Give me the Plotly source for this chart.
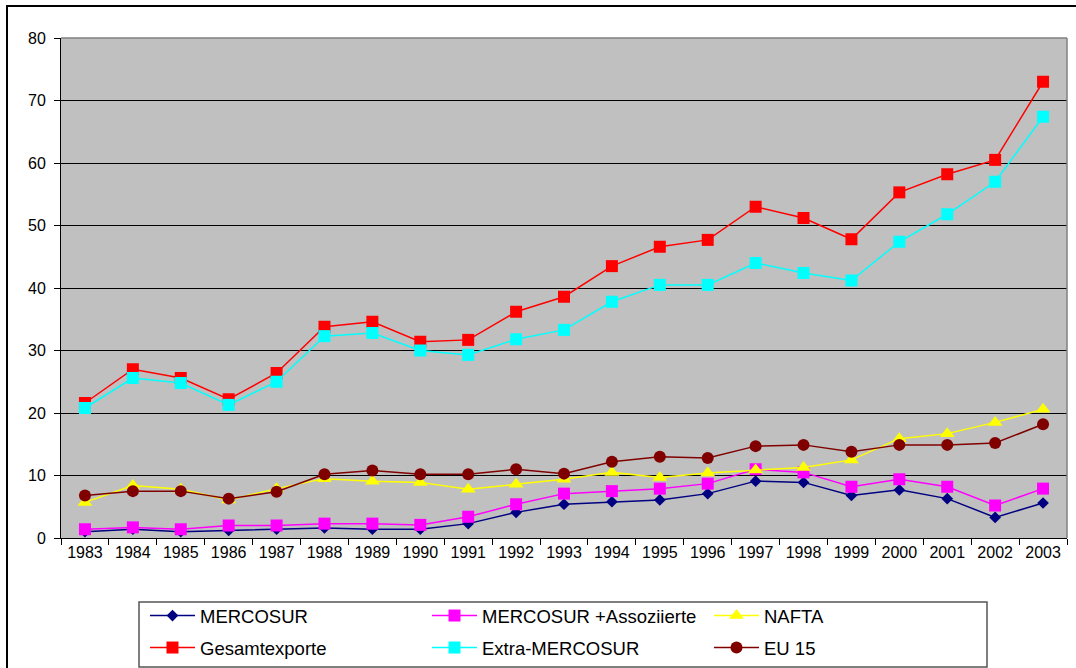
import plotly.graph_objects as go

years = [str(y) for y in range(1983, 2004)]

mercosur = [1.0, 1.4, 1.0, 1.2, 1.4, 1.6, 1.4, 1.4, 2.3, 4.1, 5.4, 5.8, 6.1, 7.1, 9.1, 8.9, 6.8, 7.7, 6.3, 3.3, 5.6]
mercosur_assoz = [1.4, 1.7, 1.4, 2.0, 2.0, 2.3, 2.3, 2.1, 3.4, 5.4, 7.1, 7.5, 7.9, 8.7, 11.0, 10.5, 8.2, 9.4, 8.2, 5.2, 7.9]
nafta = [5.7, 8.4, 7.8, 6.1, 7.9, 9.5, 9.1, 8.9, 7.8, 8.6, 9.4, 10.5, 9.7, 10.4, 10.9, 11.3, 12.5, 15.9, 16.7, 18.5, 20.6]
gesamt = [21.6, 27.0, 25.6, 22.2, 26.4, 33.8, 34.6, 31.4, 31.7, 36.2, 38.6, 43.5, 46.6, 47.7, 53.0, 51.2, 47.8, 55.3, 58.2, 60.5, 73.0]
extra = [20.8, 25.6, 24.8, 21.3, 25.0, 32.3, 32.8, 30.0, 29.3, 31.8, 33.3, 37.8, 40.5, 40.5, 44.0, 42.4, 41.2, 47.4, 51.8, 57.0, 67.4]
eu15 = [6.8, 7.5, 7.5, 6.3, 7.4, 10.2, 10.8, 10.2, 10.2, 11.0, 10.3, 12.2, 13.0, 12.8, 14.7, 14.9, 13.8, 14.9, 14.9, 15.2, 18.2]

series = [
    ("MERCOSUR", mercosur, "#000080", "diamond", 9, "legend"),
    ("MERCOSUR +Assoziierte", mercosur_assoz, "#FF00FF", "square", 12, "legend"),
    ("NAFTA", nafta, "#FFFF00", "triangle-up", 13, "legend"),
    ("Gesamtexporte", gesamt, "#FF0000", "square", 12, "legend2"),
    ("Extra-MERCOSUR", extra, "#00FFFF", "square", 12, "legend2"),
    ("EU 15", eu15, "#800000", "circle", 12, "legend2"),
]

FONT = "Arial, 'Liberation Sans', sans-serif"

fig = go.Figure()
for name, vals, col, sym, sz, leg in series:
    fig.add_trace(go.Scatter(
        x=years, y=vals, name=name, mode="lines+markers",
        line=dict(color=col, width=1.5),
        marker=dict(symbol=sym, size=sz, color=col, line=dict(width=0)),
        legend=leg,
    ))

W, H = 1076, 668
L, R, T, B = 61, 9, 38, 130
pw, ph = W - L - R, H - T - B

def px(x):
    return (x - L) / pw

def py(y):
    return (H - B - y) / ph

legend_common = dict(
    orientation="h", xref="container", yref="container",
    xanchor="left", yanchor="middle",
    bgcolor="rgba(0,0,0,0)", borderwidth=0,
    font=dict(family=FONT, size=18.5, color="black"),
    itemwidth=45, entrywidth=222, entrywidthmode="pixels",
    itemclick=False, itemdoubleclick=False,
)

fig.update_layout(
    width=W, height=H,
    margin=dict(l=L, r=R, t=T, b=B),
    paper_bgcolor="white",
    plot_bgcolor="#C0C0C0",
    font=dict(family=FONT, size=16, color="black"),
    xaxis=dict(
        type="category", range=[-0.5, 20.5],
        showgrid=False, showline=True, linecolor="black", linewidth=1,
        ticks="outside", tickson="boundaries", ticklen=6, tickcolor="black",
        tickfont=dict(family=FONT, size=16, color="black"),
        zeroline=False,
    ),
    yaxis=dict(
        range=[0, 80], dtick=10, tick0=0,
        showgrid=True, gridcolor="black", gridwidth=1,
        showline=True, linecolor="black", linewidth=1,
        ticks="outside", ticklen=6, tickcolor="black",
        ticklabelstandoff=5,
        tickfont=dict(family=FONT, size=16, color="black"),
        zeroline=False,
    ),
    legend=dict(legend_common, x=145 / W, y=1 - 616 / H),
    legend2=dict(legend_common, x=145 / W, y=1 - 648 / H),
    showlegend=True,
    shapes=[
        # plot area border (top/right grey)
        dict(type="line", xref="paper", yref="paper", x0=0, x1=1, y0=1, y1=1,
             line=dict(color="#808080", width=1.5), layer="above"),
        dict(type="line", xref="paper", yref="paper", x0=1, x1=1, y0=0, y1=1,
             line=dict(color="#808080", width=1.5), layer="above"),
        # outer chart border
        dict(type="rect", xref="paper", yref="paper",
             x0=px(7), x1=px(1085), y0=py(690), y1=py(6),
             line=dict(color="black", width=2), fillcolor="rgba(0,0,0,0)", layer="above"),
        # legend box
        dict(type="rect", xref="paper", yref="paper",
             x0=px(139), x1=px(987), y0=py(667), y1=py(602),
             line=dict(color="#555555", width=1.5), fillcolor="rgba(0,0,0,0)", layer="above"),
    ],
)

fig.write_html("out.html")
